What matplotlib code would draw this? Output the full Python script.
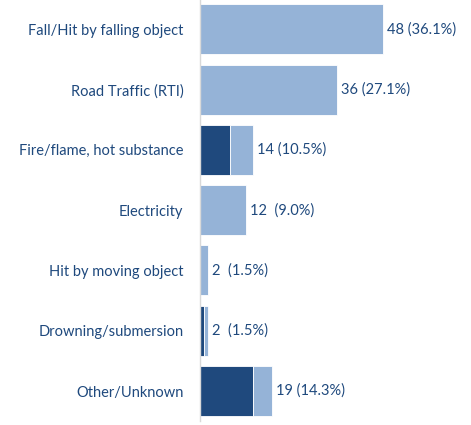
import matplotlib
matplotlib.use("Agg")
import matplotlib.pyplot as plt

categories = ["Fall/Hit by falling object", "Road Traffic (RTI)", "Fire/flame, hot substance",
              "Electricity", "Hit by moving object", "Drowning/submersion", "Other/Unknown"]
dark_vals = [0, 0, 8, 0, 0, 1, 14]
light_vals = [48, 36, 6, 12, 2, 1, 5]
totals = [48, 36, 14, 12, 2, 2, 19]
pct_labels = ["(36.1%)", "(27.1%)", "(10.5%)", "(9.0%)", "(1.5%)", "(1.5%)", "(14.3%)"]

DARK = "#1F497D"
LIGHT = "#95B3D7"
TEXT = "#1F497D"
FONT = "Lato"

fig = plt.figure(figsize=(4.71, 4.25), dpi=100)
ax = fig.add_axes([200/471, 0.009, 270/471, 0.993])

y = list(range(len(categories)))
ax.barh(y, dark_vals, height=0.83, color=DARK, edgecolor="white", linewidth=0.6)
ax.barh(y, light_vals, left=dark_vals, height=0.83, color=LIGHT, edgecolor="white", linewidth=0.6)

for yi, t, p in zip(y, totals, pct_labels):
    sep = "  " if len(p) == 6 else " "
    ax.annotate(f"{t}{sep}{p}", xy=(t, yi), xytext=(3, 0), textcoords="offset points",
                va="center", ha="left", fontsize=10.5, color=TEXT, family=FONT)

ax.set_yticks(y)
ax.set_yticklabels(categories, fontsize=10.5, color=TEXT, family=FONT)
ax.tick_params(axis="y", length=0, pad=12)
ax.set_xticks([])
ax.set_xlim(0, 71)
ax.set_ylim(6.5, -0.5)
for s in ["top", "right", "bottom"]:
    ax.spines[s].set_visible(False)
ax.spines["left"].set_color("#D9D9D9")
ax.spines["left"].set_linewidth(1.0)

fig.savefig("out.png", dpi=100)
